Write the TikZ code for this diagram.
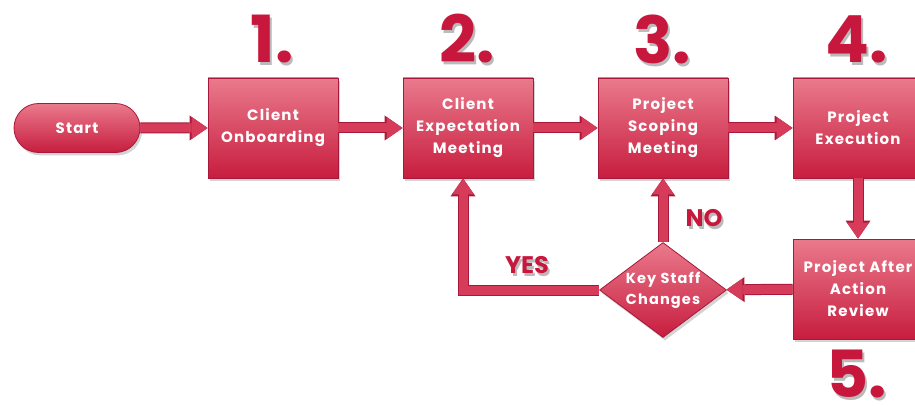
\documentclass[tikz,border=0pt]{standalone}
\usepackage{fontspec}
\setmainfont{Poppins}
\newfontfamily\boxfont{Poppins}[LetterSpace=8]
\usetikzlibrary{arrows.meta,shapes.geometric,shapes.misc,shadows,positioning}

\definecolor{boxtop}{HTML}{EA7A8C}
\definecolor{boxbot}{HTML}{C71D3E}
\definecolor{boxedge}{HTML}{A8183A}
\definecolor{arrfill}{HTML}{D63C5A}
\definecolor{numred}{HTML}{C8173C}

\tikzset{
  card/.style={rectangle, draw=boxedge, line width=0.8pt,
    top color=boxtop, bottom color=boxbot,
    minimum width=130pt, minimum height=100pt, inner sep=2pt,
    text=white, align=center, font=\boxfont\bfseries\fontsize{15}{22}\selectfont,
    drop shadow={shadow xshift=2pt, shadow yshift=-3pt, opacity=0.35}},
  pill/.style={card, rounded rectangle, minimum width=130pt, minimum height=49pt},
  decision/.style={card, diamond, minimum width=127pt, minimum height=95pt,
    inner sep=-10pt, font=\boxfont\bfseries\fontsize{14.5}{21}\selectfont},
  flow/.style={draw=arrfill, line width=9pt,
    -{Triangle[width=22pt,length=16pt,line width=0pt]},
    preaction={draw=boxedge, line width=11pt,
      -{Triangle[width=25pt,length=18pt,line width=0pt]}}},
  stepnum/.style={text=numred, font=\bfseries\fontsize{65}{65}\selectfont},
  stepshade/.style={text=black!45, opacity=0.6, font=\bfseries\fontsize{65}{65}\selectfont},
  answer/.style={text=numred, font=\bfseries\fontsize{24}{24}\selectfont},
  answershade/.style={answer, text=black!45, opacity=0.6}
}

\begin{document}
\begin{tikzpicture}[x=1pt,y=-1pt]
    \useasboundingbox (0,0) rectangle (915,406);
    \clip (0,0) rectangle (915,406);

    % Step numbers
    \foreach \i/\x/\y in {1/272/39,2/467/39,3/662/39,4/857/39,5/857/374} {
        \node[stepshade] at (\x+2,\y+3) {\i.};
        \node[stepnum] (n\i) at (\x,\y) {\i.};
    }

    % Process boxes
    \node[pill] (start) at (77,128) {Start};
    \node[card] (box1) at (273,128) {Client\\Onboarding};
    \node[card] (box2) at (468,128) {Client\\Expectation\\Meeting};
    \node[card] (box3) at (663,128) {Project\\Scoping\\Meeting};
    \node[card] (box4) at (858,128) {Project\\Execution};
    \node[card] (box5) at (858,289) {Project After\\Action\\Review};
    \node[decision] (dec) at (663,290) {Key Staff\\Changes};

    % Connectors
    \draw[flow] (start) -- (box1);
    \draw[flow] (box1) -- (box2);
    \draw[flow] (box2) -- (box3);
    \draw[flow] (box3) -- (box4);
    \draw[flow] (box4) -- (box5);
    \draw[flow] (box5) -- (dec);
    \draw[flow] (dec.north) -- (box3.south);
    \draw[flow] (dec.west) -| ([xshift=-5pt]box2.south);

    % Answers
    \node[answershade] at (706,221) {NO};
    \node[answer] (no) at (704,218) {NO};
    \node[answershade] at (529,268) {YES};
    \node[answer] (yes) at (527,265) {YES};
\end{tikzpicture}
\end{document}
